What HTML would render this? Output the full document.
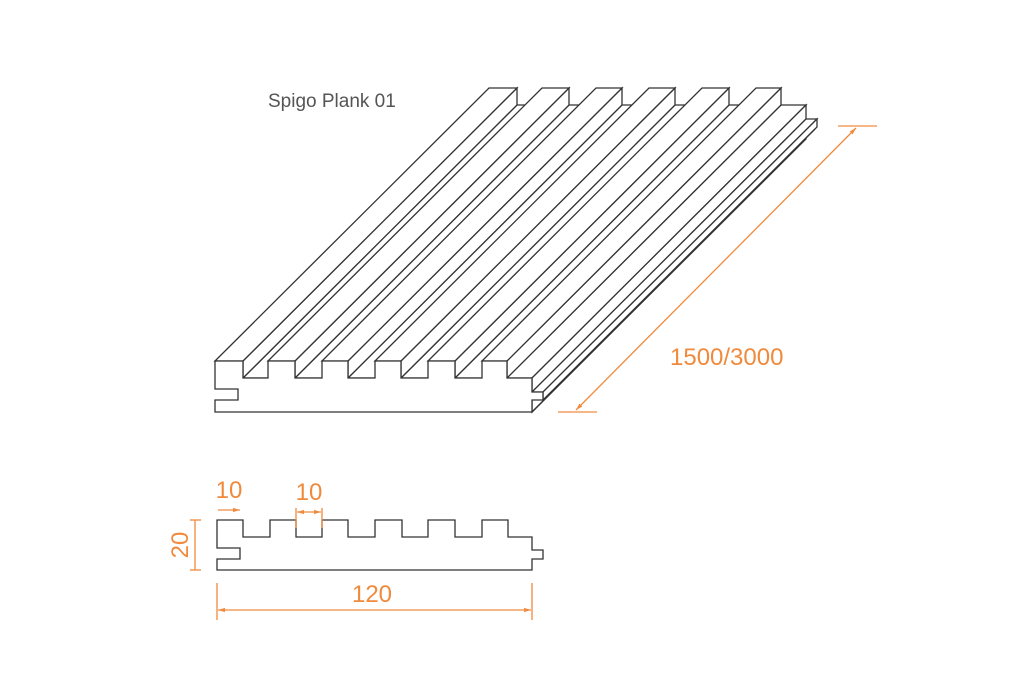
<!DOCTYPE html>
<html><head><style>
html,body{margin:0;padding:0;background:#fff;}
svg{display:block;}
text{font-family:"Liberation Sans",sans-serif;}
</style></head><body>
<svg width="1024" height="682" viewBox="0 0 1024 682" xmlns="http://www.w3.org/2000/svg">
<defs>
<marker id="ar" viewBox="0 0 10 10" refX="10" refY="5" markerWidth="7" markerHeight="7" orient="auto-start-reverse" markerUnits="userSpaceOnUse">
<path d="M0,2 L10,5 L0,8 z" fill="#f08a3c"/>
</marker>
</defs>
<g id="plank" stroke="#333" stroke-width="1.3" fill="#fff" stroke-linejoin="miter">
<polygon points="243,378 268,378 542,105 517,105"/>
<polygon points="295,378 322,378 596,105 569,105"/>
<polygon points="348,378 375,378 649,105 622,105"/>
<polygon points="401,378 428,378 702,105 675,105"/>
<polygon points="455,378 482,378 756,105 729,105"/>
<polygon points="507,378 532,378 806,105 781,105"/>
<polygon points="532,400 532,412 806,139 806,127"/>
<polygon points="243,361 243,378 517,105 517,88"/>
<polygon points="295,361 295,378 569,105 569,88"/>
<polygon points="348,361 348,378 622,105 622,88"/>
<polygon points="401,361 401,378 675,105 675,88"/>
<polygon points="455,361 455,378 729,105 729,88"/>
<polygon points="507,361 507,378 781,105 781,88"/>
<polygon points="532,378 532,392 806,119 806,105"/>
<polygon points="532,392 543,392 817,119 806,119"/>
<polygon points="543,392 543,400 817,127 817,119"/>
<line x1="532" y1="412" x2="815" y2="129"/>
<polygon points="215,361 243,361 517,88 489,88"/>
<polygon points="268,361 295,361 569,88 542,88"/>
<polygon points="322,361 348,361 622,88 596,88"/>
<polygon points="375,361 401,361 675,88 649,88"/>
<polygon points="428,361 455,361 729,88 702,88"/>
<polygon points="482,361 507,361 781,88 756,88"/>
<polygon points="215,361 243,361 243,378 268,378 268,361 295,361 295,378 322,378 322,361 348,361 348,378 375,378 375,361 401,361 401,378 428,378 428,361 455,361 455,378 482,378 482,361 507,361 507,378 532,378 532,392 543,392 543,400 532,400 532,412 215,412 215,400 238,400 238,389 215,389"/>
</g>
<text x="268" y="107" font-size="19" fill="#555">Spigo Plank 01</text>

<g stroke="#f08a3c" stroke-width="1.3" fill="none">
<line x1="838" y1="126" x2="877" y2="126"/>
<line x1="558" y1="412" x2="597" y2="412"/>
<line x1="576" y1="410" x2="856" y2="128" marker-start="url(#ar)" marker-end="url(#ar)"/>
</g>
<text x="670" y="365" font-size="24" fill="#f08a3c">1500/3000</text>

<polygon fill="#fff" stroke="#333" stroke-width="1.3" points="217,520 243,520 243,537 270,537 270,520 296,520 296,537 322,537 322,520 348,520 348,537 375,537 375,520 402,520 402,537 428,537 428,520 455,520 455,537 482,537 482,520 508,520 508,537 532,537 532,550 543,550 543,559 532,559 532,570 217,570 217,559 240,559 240,548 217,548"/>
<g stroke="#f08a3c" stroke-width="1.3" fill="none">
<line x1="195" y1="520" x2="195" y2="570"/>
<line x1="190" y1="520" x2="201" y2="520"/>
<line x1="190" y1="570" x2="201" y2="570"/>
<line x1="218" y1="510" x2="240" y2="510" marker-end="url(#ar)"/>
<line x1="297" y1="512" x2="321" y2="512" marker-start="url(#ar)" marker-end="url(#ar)"/>
<line x1="296" y1="508" x2="296" y2="528"/>
<line x1="322" y1="508" x2="322" y2="528"/>
<line x1="217" y1="583" x2="217" y2="620"/>
<line x1="532" y1="583" x2="532" y2="620"/>
<line x1="218" y1="610" x2="531" y2="610" marker-start="url(#ar)" marker-end="url(#ar)"/>
</g>
<text x="229" y="498" font-size="24" fill="#f08a3c" text-anchor="middle">10</text>
<text x="309" y="500" font-size="24" fill="#f08a3c" text-anchor="middle">10</text>
<text x="372" y="602" font-size="24" fill="#f08a3c" text-anchor="middle">120</text>
<text transform="translate(188,545) rotate(-90)" font-size="24" fill="#f08a3c" text-anchor="middle">20</text>
</svg>
</body></html>
